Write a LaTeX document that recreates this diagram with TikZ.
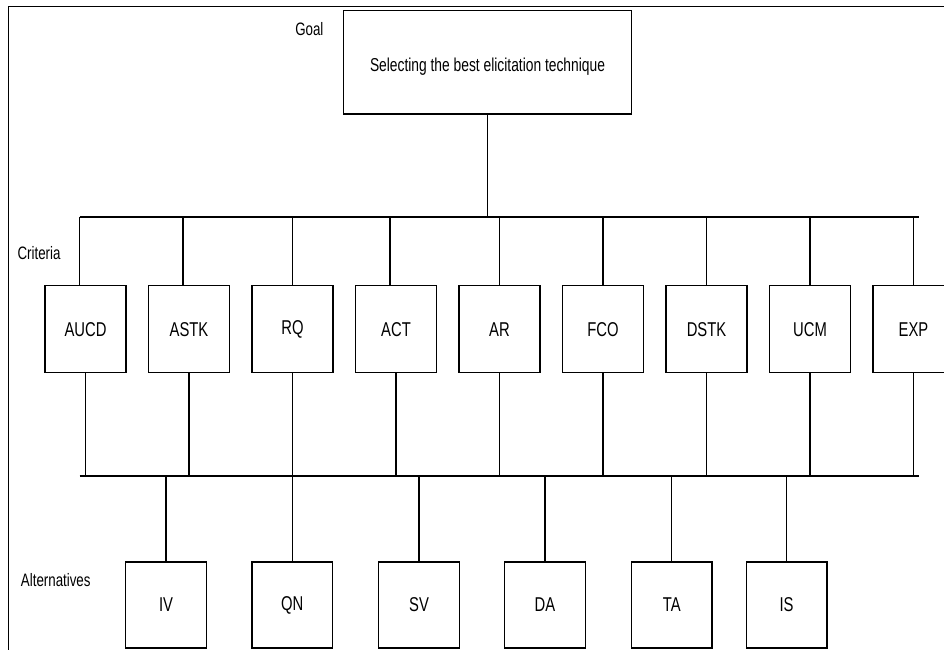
\documentclass[tikz,border=0pt]{standalone}
\usepackage{fontspec}
\setmainfont{Liberation Sans}[FakeStretch=0.74]
\usetikzlibrary{calc}
\begin{document}
\begin{tikzpicture}[x=0.75pt,y=-0.75pt,
  crit/.style={draw, line width=1pt, inner sep=0pt, minimum width=60.75pt, minimum height=65.25pt, font=\fontsize{15}{18}\selectfont},
  alt/.style={draw, line width=1pt, inner sep=0pt, minimum width=60.5pt, minimum height=64.7pt, font=\fontsize{15}{18}\selectfont},
  goalbox/.style={draw, line width=1pt, inner sep=0pt, minimum width=216.3pt, minimum height=77.5pt},
  goaltxt/.style={inner sep=0pt, font=\fontsize{14}{17}\selectfont},
  lbl/.style={anchor=base west, inner sep=0pt, font=\fontsize{13.5}{16}\selectfont},
  conn/.style={line width=0.8pt},
  bus/.style={line width=1.5pt},
  frame/.style={line width=0.75pt}]
\useasboundingbox (0,0) rectangle (944,650);
\clip (0,0) rectangle (944,650);
% frame
\coordinate (fr1) at (944,6.7);
\coordinate (fr2) at (8.3,6.7);
\coordinate (fr3) at (8.3,650);
\draw[frame] (fr1) -- (fr2) -- (fr3);
% labels
\node[lbl] (goallbl) at (295,35.7) {Goal};
\node[lbl] (critlbl) at (17.3,259.3) {Criteria};
\node[lbl] (altlbl) at (20.7,586.7) {Alternatives};
% goal
\node[goalbox] (goal) at (487.5,62.3) {};
\node[goaltxt, anchor=base] (goaltext) at (487.5,71.7) {Selecting the best elicitation technique};
% criteria
\foreach \n/\x in {AUCD/85.5, ASTK/189, RQ/292.5, ACT/396, AR/499.5, FCO/603, DSTK/706.5, UCM/810, EXP/913.5}
  \node[crit] (\n) at (\x,329.2) {\n};
% alternatives
\foreach \n/\x in {IV/166, QN/292.3, SV/419, DA/545, TA/671.8, IS/786.5}
  \node[alt] (\n) at (\x,605) {\n};
% buses
\coordinate (tb1) at (79.5,216.7);
\coordinate (tb2) at (918.7,216.7);
\coordinate (bb1) at (79.5,476);
\coordinate (bb2) at (918.7,476);
\draw[bus] (tb1) -- (tb2);
\draw[bus] (bb1) -- (bb2);
% goal to top bus
\draw[conn] (goal.south) -- (goal.south |- tb1);
% top bus to criteria
\foreach \n/\dx in {AUCD/-6, ASTK/-6, RQ/0, ACT/-6, AR/0, FCO/0, DSTK/0, UCM/0, EXP/0}
  \draw[conn] ($(\n.north)+(\dx,0)$) -- ($(\n.north |- tb1)+(\dx,0)$);
% criteria to bottom bus
\foreach \n in {AUCD, ASTK, RQ, ACT, AR, FCO, DSTK, UCM, EXP}
  \draw[conn] (\n.south) -- (\n.south |- bb1);
% bottom bus to alternatives
\foreach \n in {IV, QN, SV, DA, TA, IS}
  \draw[conn] (\n.north) -- (\n.north |- bb1);
\end{tikzpicture}
\end{document}
